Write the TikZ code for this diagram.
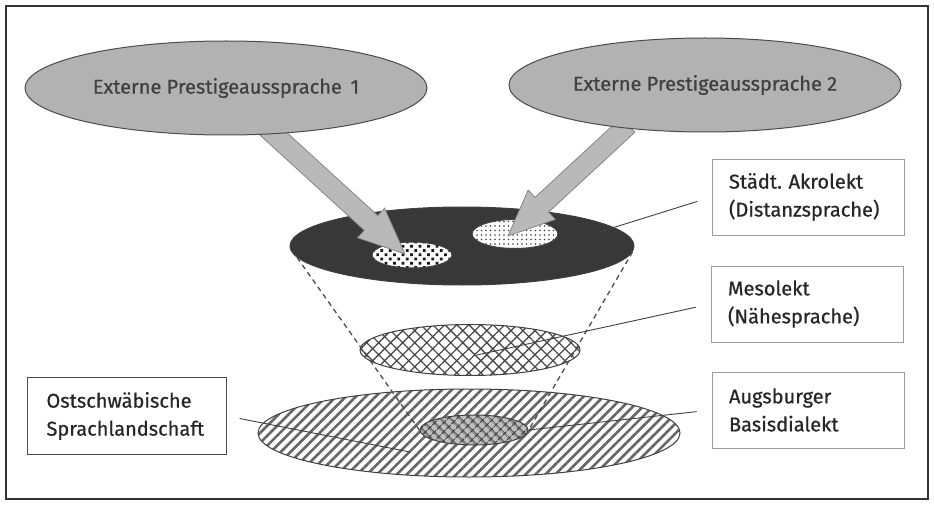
\documentclass[tikz,border=0pt]{standalone}
\usepackage{fontspec}
\setmainfont{Fira Sans}[FakeBold=0.6]
\usepackage{tikz}
\usetikzlibrary{patterns.meta,shapes.geometric,calc}
\tikzset{
  marco/.style={draw=black!80,line width=1.6pt},
  elipse/.style={ellipse,inner sep=0pt,draw=black!75,line width=1pt},
  oben/.style={elipse,fill=gray!60,draw=black!70,text=black!75,font=\fontsize{20}{24}\selectfont},
  kasten/.style={draw=gray!75,line width=0.8pt,align=left,text=black!85,inner ysep=4pt,
    font=\fontsize{20}{28}\selectfont},
  pfeil/.style={fill=gray!55,draw=gray!40!black!60,line width=0.8pt,line join=miter},
  gestrichelt/.style={black!70,line width=1.3pt,dash pattern=on 5pt off 4pt},
  verbinder/.style={black!75,line width=0.9pt,shorten <=15pt}
}
\newcommand{\blockpfeil}[2]{%
  \filldraw[pfeil] ($(#1)!10pt!90:(#2)$) -- ($(#2)!46pt!(#1)!10pt!-90:(#1)$)
    -- ($(#2)!46pt!(#1)!20pt!-90:(#1)$) -- (#2)
    -- ($(#2)!46pt!(#1)!20pt!90:(#1)$) -- ($(#2)!46pt!(#1)!10pt!90:(#1)$)
    -- ($(#1)!10pt!-90:(#2)$) -- cycle;}

\begin{document}
\begin{tikzpicture}[x=1pt,y=-1pt]
\useasboundingbox (0,0) rectangle (934,505);
\fill[white] (0,0) rectangle (934,505);
\draw[marco] (6,6) rectangle (928,499);

\node[elipse,fill=black!78,minimum width=344pt,minimum height=78pt] (dunkel) at (462,246) {};
\node[elipse,preaction={fill=white},pattern={Dots[distance=6pt,radius=1.9pt,angle=45]},pattern color=black!90,
  minimum width=80pt,minimum height=26pt] (punktA) at (412,255) {};
\node[elipse,preaction={fill=white},pattern={Dots[distance=4.5pt,radius=0.9pt]},pattern color=black!75,
  minimum width=86pt,minimum height=29pt] (punktB) at (515,234) {};

\node[elipse,preaction={fill=white},pattern={Hatch[angle=45,distance=8.5pt,line width=1.3pt]},pattern color=black!70,
  minimum width=220pt,minimum height=51pt] (mesoEl) at (470,350) {};
\node[elipse,pattern={Lines[angle=45,distance=7pt,line width=2.6pt]},pattern color=black!60,
  minimum width=422pt,minimum height=88pt] (landEl) at (469,433) {};
\node[elipse,preaction={fill=gray!50},pattern={Hatch[angle=45,distance=6.5pt,line width=1.3pt]},pattern color=black!75,
  minimum width=108pt,minimum height=30pt] (basisEl) at (474,430) {};

\draw[gestrichelt] (dunkel.184) -- (basisEl.west);
\draw[gestrichelt] (dunkel.358) -- (basisEl.east);

\coordinate (start1) at (267,128);
\coordinate (spitze1) at (405,254);
\coordinate (start2) at (628,125);
\coordinate (spitze2) at (508,236);
\blockpfeil{start1}{spitze1}
\blockpfeil{start2}{spitze2}

\node[oben,minimum width=402pt,minimum height=94pt] (ext1) at (226,88) {Externe Prestigeaussprache\ \,1};
\node[oben,minimum width=392pt,minimum height=94pt] (ext2) at (705,85) {Externe Prestigeaussprache 2};

\node[kasten,text width=158pt,inner xsep=17pt,minimum height=76pt] (akro) at (808,197) {Städt.\ Akrolekt\\(Distanzsprache)};
\node[kasten,text width=158pt,inner xsep=17pt,minimum height=76pt] (meso) at (807,304) {Mesolekt\\(Nähesprache)};
\node[kasten,text width=158pt,inner xsep=17pt,minimum height=76pt] (basis) at (808,410) {Augsburger\\Basisdialekt};
\node[kasten,draw=black!70,text width=161pt,inner xsep=19pt,minimum height=77pt] (land) at (127,416) {Ostschwäbische\\Sprachlandschaft};

\coordinate (akroEnde) at (596,233);
\coordinate (mesoEnde) at (477,355);
\coordinate (landEnde) at (410,452);
\draw[verbinder] (akro.west) -- (akroEnde);
\draw[verbinder] (meso.west) -- (mesoEnde);
\draw[verbinder] (basis.west) -- (basisEl.east);
\draw[verbinder,shorten <=13pt] (land.east) -- (landEnde);
\end{tikzpicture}
\end{document}
